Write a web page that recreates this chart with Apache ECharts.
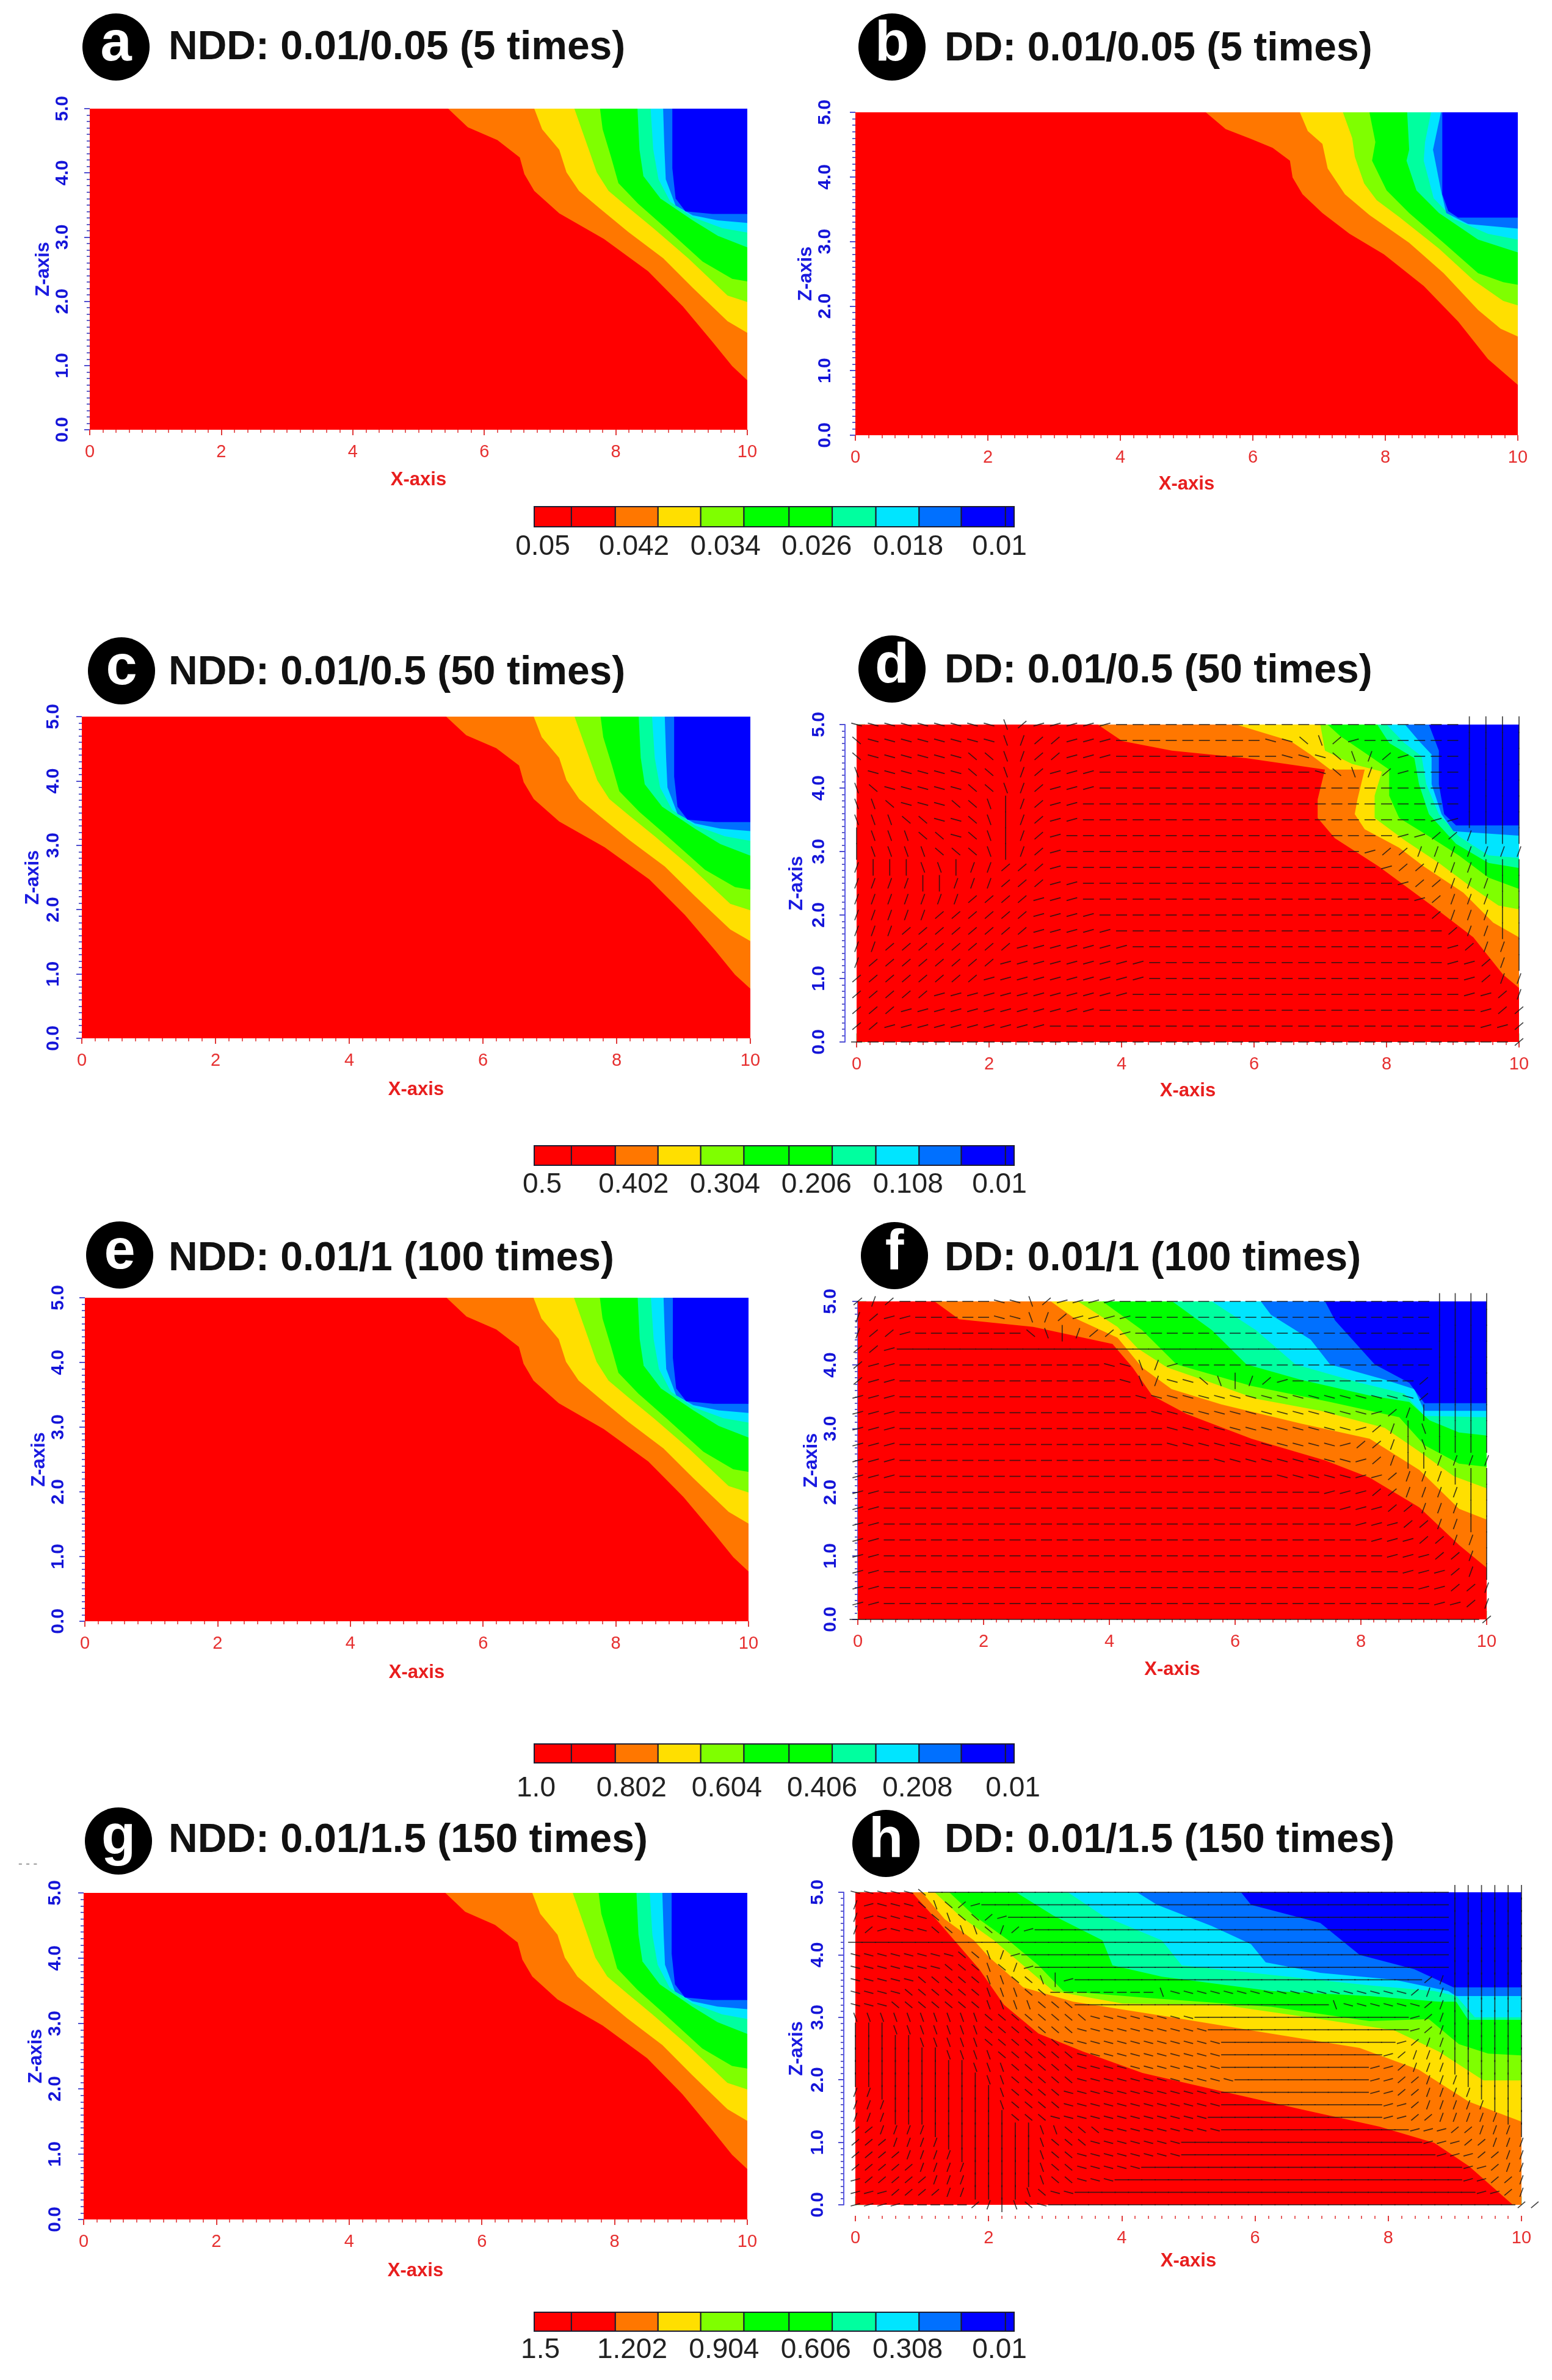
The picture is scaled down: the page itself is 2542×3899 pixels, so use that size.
<!DOCTYPE html>
<html><head><meta charset="utf-8">
<style>html,body{margin:0;padding:0;background:#fff}#c{width:2542px;height:3899px}</style>
<script src="https://cdn.jsdelivr.net/npm/echarts@6/dist/echarts.min.js"></script>
</head><body><div id="c"></div>
<script>
// contour fill colours, lowest boundary region first
const levelColors = ['#ff0000','#ff7700','#ffdf00','#7fff00','#00ff00','#00ff9f','#00e5ff','#0070ff','#0000ff'];
const legendColors = ['#ff0000','#ff0000','#ff7700','#ffdf00','#7fff00','#00ff00','#00ff00','#00ff9f','#00e5ff','#0070ff','#0000ff','#0000ff'];
const legendEdges = [0,0.0775,0.169,0.258,0.347,0.437,0.531,0.621,0.712,0.802,0.890,0.982,1];

// contour boundaries [x, z]
const nddContours = [
 [[5.45,5],[5.75,4.71],[6.2,4.51],[6.54,4.24],[6.61,3.98],[6.76,3.72],[7.14,3.37],[7.82,2.97],[8.49,2.47],[9.02,1.92],[9.47,1.37],[9.77,.99],[10,.77]],
 [[6.76,5],[6.88,4.68],[7.14,4.36],[7.25,4.01],[7.44,3.72],[7.74,3.46],[8.19,3.08],[8.72,2.67],[9.17,2.21],[9.7,1.69],[10,1.51]],
 [[7.37,5],[7.48,4.68],[7.59,4.36],[7.71,4.01],[7.89,3.72],[8.19,3.46],[8.57,3.14],[9.1,2.67],[9.7,2.09],[10,1.99]],
 [[7.76,5],[7.8,4.68],[7.93,4.24],[8.04,3.84],[8.34,3.52],[8.76,3.14],[9.32,2.62],[9.77,2.35],[10,2.31]],
 [[8.33,5],[8.36,4.36],[8.42,3.95],[8.68,3.6],[9.17,3.26],[9.55,3.02],[10,2.84]],
 [[8.53,5],[8.57,4.36],[8.65,3.9],[8.83,3.55],[9.17,3.31],[9.62,3.14],[10,3.07]],
 [[8.72,5],[8.74,4.36],[8.76,3.9],[8.91,3.49],[9.17,3.34],[9.55,3.26],[10,3.22]],
 [[8.86,5],[8.86,4.07],[8.91,3.6],[9.06,3.4],[9.47,3.36],[10,3.36]]
];
const ddBContours = [
 [[5.29,5],[5.59,4.74],[5.97,4.59],[6.3,4.45],[6.56,4.25],[6.6,3.99],[6.75,3.73],[7.05,3.44],[7.46,3.12],[7.98,2.8],[8.58,2.31],[9.1,1.76],[9.55,1.18],[10,.78]],
 [[6.71,5],[6.83,4.71],[7.05,4.51],[7.13,4.13],[7.39,3.73],[7.76,3.41],[8.36,2.98],[8.88,2.51],[9.4,1.94],[9.74,1.65],[10,1.53]],
 [[7.36,5],[7.5,4.6],[7.54,4.31],[7.68,3.9],[7.87,3.64],[8.21,3.38],[8.81,2.89],[9.33,2.4],[9.78,2.08],[10,2.01]],
 [[7.76,5],[7.85,4.54],[7.8,4.25],[8.02,3.79],[8.36,3.44],[8.88,2.98],[9.4,2.51],[9.78,2.37],[10,2.33]],
 [[8.33,5],[8.36,4.42],[8.32,4.25],[8.47,3.79],[8.81,3.44],[9.4,3.03],[10,2.83]],
 [[8.69,5],[8.6,4.54],[8.58,4.25],[8.73,3.67],[9.03,3.35],[9.55,3.12],[10,3.03]],
 [[8.84,5],[8.72,4.42],[8.84,3.79],[8.92,3.44],[9.25,3.27],[10,3.2]],
 [[8.86,5],[8.86,3.73],[8.95,3.47],[9.1,3.37],[10,3.37]]
];
const ddDContours = [
 [[3.64,5],[4.01,4.74],[4.76,4.59],[5.88,4.47],[7.07,4.29],[6.96,3.82],[6.96,3.53],[7.22,3.21],[7.89,2.76],[8.72,2.12],[9.31,1.65],[9.76,1.06],[10,.85]],
 [[5.73,5],[6.55,4.74],[6.85,4.53],[7.15,4.29],[7.67,4.29],[7.56,3.82],[7.52,3.59],[7.67,3.35],[8.19,3.06],[8.57,2.76],[9.16,2.35],[9.61,1.88],[10,1.65]],
 [[7,5],[7.07,4.59],[7.48,4.38],[7.93,4.26],[7.82,3.88],[7.82,3.53],[8.27,3.18],[8.79,2.82],[9.24,2.47],[9.69,2.15],[10,2.09]],
 [[7.11,5],[7.3,4.82],[7.71,4.53],[8.04,4.29],[8.04,3.88],[8.19,3.53],[8.64,3.24],[9.09,2.94],[9.54,2.59],[10,2.41]],
 [[7.86,5],[8.04,4.71],[8.42,4.47],[8.49,4.06],[8.64,3.59],[9.05,3.12],[9.54,2.82],[10,2.74]],
 [[8,5],[8.27,4.71],[8.53,4.5],[8.6,4.06],[8.79,3.59],[9.09,3.24],[9.54,2.94],[10,2.9]],
 [[8.28,5],[8.49,4.74],[8.68,4.53],[8.68,4.06],[8.83,3.59],[9.01,3.32],[10,3.25]],
 [[8.64,5],[8.79,4.59],[8.79,4.06],[8.87,3.59],[9.05,3.41],[10,3.41]]
];
const ddFContours = [
 [[1.22,5],[1.61,4.72],[2.79,4.6],[4.05,4.33],[4.37,3.96],[4.68,3.52],[5.23,3.23],[6.26,2.84],[7.43,2.5],[8.14,2.23],[8.93,1.76],[9.56,1.17],[10,.81]],
 [[3.07,5],[3.42,4.75],[4.13,4.43],[4.52,3.96],[4.99,3.62],[5.78,3.38],[7.04,3.08],[8.14,2.84],[8.93,2.35],[9.56,1.74],[10,1.57]],
 [[3.5,5],[4.13,4.6],[4.45,4.26],[4.92,3.96],[5.63,3.72],[6.33,3.47],[7.36,3.28],[8.38,3.01],[8.93,2.64],[9.48,2.25],[10,2.06]],
 [[3.89,5],[4.52,4.55],[5.07,4.01],[6.26,3.67],[7.51,3.42],[8.61,3.18],[9.01,2.74],[9.56,2.45],[10,2.4]],
 [[5,5],[5.63,4.55],[6.18,4.01],[7.04,3.77],[8.14,3.52],[8.77,3.42],[9.09,3.13],[9.56,2.94],[10,2.89]],
 [[5.63,5],[6.33,4.55],[6.96,4.01],[7.99,3.72],[8.69,3.55],[9.01,3.2],[10,3.18]],
 [[6.41,5],[6.57,4.79],[7.2,4.4],[7.51,4.01],[8.38,3.77],[8.85,3.62],[9.01,3.28],[10,3.28]],
 [[7.43,5],[7.59,4.7],[8.22,4.01],[8.77,3.72],[9.01,3.4],[10,3.4]]
];
const ddHContours = [
 [[.85,5],[1.26,4.51],[1.86,3.77],[2.23,3.2],[2.75,2.74],[3.42,2.45],[4.31,2.11],[5.49,1.82],[6.68,1.53],[7.87,1.25],[8.69,.99],[9.21,.62],[9.87,0],[10,0]],
 [[1,5],[1.34,4.57],[1.78,4.23],[2,3.97],[2.52,3.48],[3.27,3.25],[4.75,3],[6.24,2.74],[7.57,2.51],[8.46,2.16],[9.21,1.65],[10,1.33]],
 [[1.19,5],[1.56,4.63],[2.08,4.23],[2.52,3.83],[2.97,3.42],[4.01,3.22],[5.49,3.2],[6.98,2.97],[8.09,2.79],[8.76,2.45],[9.43,1.99],[10,1.99]],
 [[1.41,5],[1.78,4.63],[2.3,4.23],[2.75,3.83],[3.12,3.42],[4.38,3.31],[6.24,3.17],[7.72,2.94],[8.61,2.97],[9.06,2.57],[9.5,2.42],[10,2.39]],
 [[2.41,5],[2.97,4.63],[3.71,4.23],[3.86,3.83],[4.6,3.65],[6.24,3.42],[7.72,3.34],[8.76,3.25],[9.02,3.25],[9.2,2.96],[10,2.96]],
 [[3.19,5],[3.71,4.63],[4.6,4.23],[4.9,3.83],[6.24,3.68],[7.72,3.51],[8.69,3.42],[9.02,3.34],[9.3,3],[10,3]],
 [[4.23,5],[4.53,4.8],[5.35,4.46],[5.94,4.17],[6.16,3.88],[6.98,3.71],[8.09,3.6],[8.9,3.42],[9.02,3.34],[10,3.34]],
 [[5.79,5],[5.94,4.8],[6.98,4.51],[7.57,4],[8.39,3.77],[8.98,3.48],[10,3.48]]
];

// flow-vector directions, row by row from z=5 down, run-length coded
// - flat  = flat long  , +15  / +40  ! +70  | vertical  ` -15  ~ -40  ; -70
const flowAngles = {'-':0,'=':0,',':15,'/':40,'!':70,'|':90,'`':-15,'~':-40,';':-70};
const flowRowsD = ['9`;/5,21-4|','~8`;!2/3,9-2`~;/,6-4|','~6`2~;!2/3,10-3`~;!/,3-4|',';6`2~;!/3,13-`~;!/,3-4|',';~5`2~;!/3,22-4|',';;~3`2~;|!/2,23-4|',';;;2~2`~;|!/2,21-2,4|','|3;2~`~;|!/,20-2,2/!3|','|4;3~;|!/,18-,2/7!','!3|2;|2!3/,19-,2/3!3|','4!2|3!3/2,19-,2/3!2|','7!4/3,20-,/3!2|','5!6/4,20-/3!2|','3!8/5,20-/2!2|','2!8/7,19-,/2!|','!8/9,18-2,/!|','8/10,19-,/2!','5/12,20-2,/!','3/12,23-,2/','2/10,26-2,/','40-/'];
const flowRowsF = ['/!/6-2`;/4,20-4|','!/2,5-2`;!/4,19-4|','!2/,7-~;|!2/,19-4|','2/,34=4|','/2,13-2`;!,16-4|','/2,14-`;!2`~;|!/,8-/4|','3,15-18`/4|','3,16-14`,/!5|','3,17-12`,/!|;4|','3,17-11`,2/!|;4|','3,20-9`,/!2|4!','3,24-5`2,/3!3|','2,28-3,2/4!2|','2,29-3,2/3!2|','2,30-3,2/2!2|','2,31-3,2/2!|','2,32-3,2/!|','2,33-3,/!|','2,34-2,2/!','2,35-2,/!','40=/'];
const flowRowsH = ['5`~39=6|','!,3`~;~/,35=6|','!,4`~;~~/,33=6|','!/,3`2~2;~!/,31=6|','45=6|','8`2~;!,32=6|','7`3~;~!,31=6|','5`5~2;2~;|,26=/!6|','4`6~3;2~8-;18`/2!6|','3`7~4;3~19=;6`/!6|','10;8~8`16=,/!6|','3|7;7~10`15=,/!6|','5|5;6~12`13=,/2!6|','7|4;6~11`12=,/3!6|','9|3;5~11`11=2,/3!6|','10|2;5~12`10=2,2/3!5|','2!9|;4~12`11=2,2/4!4|','3!8|;4~12`12=2,/5!3|','3!9|3~12`13=2,2/5!2|','2/4!8|2;3~9`14=3,2/3!|','3/4!7|;3~7`18=3,2/3!','4/4!6|;2~8`19=3,2/2!','5/4!5|;2~5`24=2,/2!',',5/3!5|;2~3`26=2,2/!','3,4/2!4|;~2`30=2,/!','4,5-/!|;~`35=2/'];

// tick labels
const colorbarRows = [
 {labels:['0.05','0.042','0.034','0.026','0.018','0.01'], values:[0.05,0.042,0.034,0.026,0.018,0.01]},
 {labels:['0.5','0.402','0.304','0.206','0.108','0.01'], values:[0.5,0.402,0.304,0.206,0.108,0.01]},
 {labels:['1.0','0.802','0.604','0.406','0.208','0.01'], values:[1.0,0.802,0.604,0.406,0.208,0.01]},
 {labels:['1.5','1.202','0.904','0.606','0.308','0.01'], values:[1.5,1.202,0.904,0.606,0.308,0.01]}
];
const colorbarLayout = [
 {top:830,h:33,min:0.05075,max:0.00872,margin:10},
 {top:1877,h:32,min:0.5085,max:-0.0057,margin:9},
 {top:2857,h:31,min:1.0038,max:0.0075,margin:19},
 {top:3788,h:31,min:1.52,max:-0.0375,margin:8}
];

const F = '"Liberation Sans", Arial, sans-serif';
const panels = [
 {k:'a',t:'NDD: 0.01/0.05 (5 times)',c:nddContours,l:147,r:1224,tp:178,b:704,cx:190,cy:77,tx:276,ty:79,m:29,ng:59,xg:67},
 {k:'b',t:'DD: 0.01/0.05 (5 times)',c:ddBContours,l:1401,r:2486,tp:184,b:713,cx:1461,cy:77,tx:1547,ty:81,m:34,ng:60,xg:65},
 {k:'c',t:'NDD: 0.01/0.5 (50 times)',c:nddContours,l:134,r:1229,tp:1174,b:1701,cx:199,cy:1099,tx:276,ty:1103,m:31,ng:64,xg:69},
 {k:'d',t:'DD: 0.01/0.5 (50 times)',c:ddDContours,l:1403,r:2488,tp:1187,b:1707,cx:1461,cy:1096,tx:1547,ty:1100,m:27,ng:63,xg:65,off:19,flow:flowRowsD,dz:.25,dx:.25,s:1},
 {k:'e',t:'NDD: 0.01/1 (100 times)',c:nddContours,l:139,r:1226,tp:2126,b:2656,cx:196,cy:2056,tx:276,ty:2063,m:28,ng:59,xg:69},
 {k:'f',t:'DD: 0.01/1 (100 times)',c:ddFContours,l:1405,r:2435,tp:2132,b:2653,cx:1465,cy:2057,tx:1547,ty:2063,m:29,ng:59,xg:67,flow:flowRowsF,dz:.25,dx:.25,s:1},
 {k:'g',t:'NDD: 0.01/1.5 (150 times)',c:nddContours,l:137,r:1224,tp:3101,b:3636,cx:194,cy:3016,tx:276,ty:3016,m:31,ng:59,xg:69},
 {k:'h',t:'DD: 0.01/1.5 (150 times)',c:ddHContours,l:1401,r:2492,tp:3100,b:3612,cx:1451,cy:3020,tx:1547,ty:3016,m:27,ng:61,xg:59,off:19,xoff:18,flow:flowRowsH,dz:.2,dx:.2,s:.88}
];

function decodeRow(row){const out=[];row.replace(/(\d*)(\D)/g,(m,n,c)=>{for(let i=0;i<(n?+n:1);i++)out.push(c);return m;});return out;}
function flowData(rows,dx,dz){const d=[];rows.forEach((r,ri)=>decodeRow(r).forEach((c,ci)=>d.push([ci*dx,5-ri*dz,flowAngles[c],(c==='='||c==='|')?1:0])));return d;}

const grid=[],xAxis=[],yAxis=[],series=[],graphic=[];
panels.forEach(p=>{
 const g=grid.length,xi=xAxis.length,yi=yAxis.length;
 grid.push({left:p.l,top:p.tp,width:p.r-p.l,height:p.b-p.tp,containLabel:false});
 xAxis.push({gridIndex:g,type:'value',min:0,max:10,interval:2,position:'bottom',offset:p.xoff||0,name:'X-axis',nameLocation:'middle',nameGap:p.xg,
  nameTextStyle:{color:'#e81e1e',fontFamily:F,fontSize:31,fontWeight:'bold'},
  axisLine:{show:false,onZero:false},axisTick:{show:true,inside:false,length:9,lineStyle:{color:'#e03a3a',width:2}},
  minorTick:{show:true,splitNumber:10,length:5,lineStyle:{color:'#e86060',width:2}},
  axisLabel:{color:'#e63030',fontFamily:F,fontSize:29,margin:22},splitLine:{show:false}});
 yAxis.push({gridIndex:g,type:'value',min:0,max:5,interval:1,position:'left',offset:p.off||0,name:'Z-axis',nameLocation:'middle',nameGap:p.ng,nameRotate:90,
  nameTextStyle:{color:'#1a1ae0',fontFamily:F,fontSize:31,fontWeight:'bold'},
  axisLine:{show:!!p.flow,onZero:false,lineStyle:{color:'#5a5ae8',width:2}},axisTick:{show:true,length:9,lineStyle:{color:'#5050d0',width:2}},
  minorTick:{show:true,splitNumber:10,length:5,lineStyle:{color:'#6060c8',width:2}},
  axisLabel:{color:'#1414d8',fontFamily:F,fontSize:30,rotate:90,margin:p.m,fontWeight:'bold',formatter:v=>v.toFixed(1)},splitLine:{show:false}});
 if(p.flow){
  // pale green frame ticks on the top and right of the vector panels
  const pale={show:true,length:14,lineStyle:{color:'#b6e8b6',width:2}};
  xAxis.push({gridIndex:g,type:'value',min:0,max:10,interval:2,position:'top',axisLine:{show:false},axisTick:pale,axisLabel:{show:false},splitLine:{show:false}});
  yAxis.push({gridIndex:g,type:'value',min:0,max:5,interval:1,position:'right',axisLine:{show:false},axisTick:pale,axisLabel:{show:false},splitLine:{show:false}});
 }
 // filled regions: base rectangle then each boundary closed through the top-right corner
 const regions=[[[0,5],[0,0],[10,0],[10,5]]].concat(p.c.map(b=>b.concat([[10,5]])));
 regions.forEach((pts,ri)=>{
  series.push({type:'custom',name:p.k+' level '+ri,xAxisIndex:xi,yAxisIndex:yi,silent:true,animation:false,data:pts,encode:{x:0,y:1},z:2,
   renderItem:(params,api)=>params.dataIndex===0?{type:'polygon',shape:{points:pts.map(q=>api.coord(q))},style:{fill:levelColors[ri]}}:null});
 });
 if(p.flow){
  series.push({type:'custom',name:p.k+' flow',xAxisIndex:xi,yAxisIndex:yi,silent:true,animation:false,z:3,clip:false,data:flowData(p.flow,p.dx,p.dz),encode:{x:0,y:1},
   renderItem:(params,api)=>{
    const c=api.coord([api.value(0),api.value(1)]),a=api.value(2)*Math.PI/180,long=api.value(3);
    const len=(long?27:18)*p.s,dx=Math.cos(a)*len/2,dy=Math.sin(a)*len/2;
    return {type:'line',shape:{x1:c[0]-dx,y1:c[1]+dy,x2:c[0]+dx,y2:c[1]-dy},style:{stroke:'#151515',lineWidth:1.7,opacity:.8}};
   }});
 }
 graphic.push({type:'circle',shape:{cx:p.cx,cy:p.cy,r:55},style:{fill:'#000'},z:10});
 graphic.push({type:'text',x:p.cx,y:p.cy-3,style:{text:p.k,fill:'#fff',font:'bold 92px '+F,textAlign:'center',textVerticalAlign:'middle'},z:11});
 graphic.push({type:'text',x:p.tx,y:p.ty,style:{text:p.t,fill:'#111',font:'bold 66px '+F,textAlign:'left',textVerticalAlign:'middle'},z:11});
});
// the faint stray marks left of panel g
graphic.push({type:'text',x:30,y:3053,style:{text:'- - -',fill:'#aaaaaa',font:'bold 20px '+F,textAlign:'left',textVerticalAlign:'middle'},z:11});
// colour bars
colorbarRows.forEach((row,i)=>{
 const L=colorbarLayout[i],g=grid.length,xi=xAxis.length,yi=yAxis.length;
 grid.push({left:875,top:L.top,width:786,height:L.h});
 xAxis.push({gridIndex:g,type:'value',min:0,max:1,show:false});
 xAxis.push({gridIndex:g,type:'value',min:L.max,max:L.min,inverse:true,position:'bottom',
  axisLine:{show:false},axisTick:{show:false},splitLine:{show:false},
  axisLabel:{customValues:row.values,showMinLabel:true,showMaxLabel:true,color:'#222',fontFamily:F,fontSize:46,margin:L.margin,formatter:v=>{const k=row.values.findIndex(w=>Math.abs(w-v)<1e-9);return k<0?'':row.labels[k];}}});
 yAxis.push({gridIndex:g,type:'value',min:0,max:1,show:false});
 series.push({type:'custom',name:'colorbar '+i,xAxisIndex:xi,yAxisIndex:yi,silent:true,animation:false,data:legendColors.map((c,k)=>[legendEdges[k],legendEdges[k+1]]),encode:{x:[0,1]},
  renderItem:(params,api)=>{
   const a=api.coord([api.value(0),1]),b=api.coord([api.value(1),0]);
   return {type:'rect',shape:{x:a[0],y:a[1],width:b[0]-a[0],height:b[1]-a[1]},style:{fill:legendColors[params.dataIndex],stroke:'#1c1c30',lineWidth:2}};
  }});
});

const chart=echarts.init(document.getElementById('c'),null,{renderer:'canvas',width:2542,height:3899});
chart.setOption({animation:false,backgroundColor:'#fff',grid,xAxis,yAxis,series,graphic:{elements:graphic}});
</script></body></html>
